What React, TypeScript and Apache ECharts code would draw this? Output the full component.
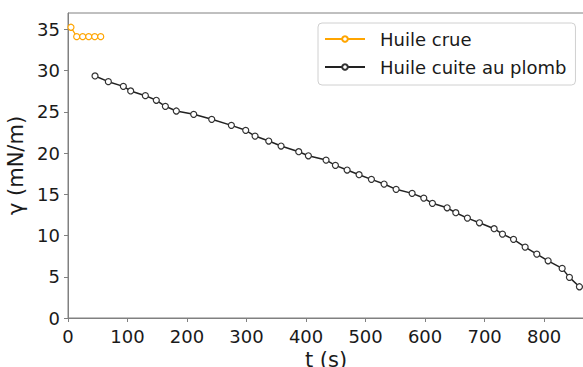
import React, { useEffect, useRef } from "react";
import * as echarts from "echarts";

// Surface tension over time for two oils
const crueTime = [5, 14.6, 24.7, 34.8, 44.9, 55];
const crueGamma = [35.27, 34.13, 34.13, 34.13, 34.13, 34.13];

const cuiteTime = [
  45.4, 67.8, 93, 105.3, 130, 148.4, 163.6, 182, 211.2, 241.5, 274.5, 298.6,
  314.3, 337.3, 358, 387.7, 403.9, 433.6, 449.3, 469, 489.1, 509.8, 531.1,
  551.3, 578.2, 597.8, 612.3, 637, 651.6, 671.1, 691.3, 716, 730, 748.6,
  768.1, 787.7, 806.7, 830.3, 842.5, 859.3,
];
const cuiteGamma = [
  29.36, 28.67, 28.1, 27.54, 26.97, 26.41, 25.68, 25.11, 24.71, 24.1, 23.37,
  22.77, 22.07, 21.47, 20.86, 20.17, 19.68, 19.16, 18.52, 17.95, 17.38, 16.82,
  16.25, 15.61, 15.12, 14.55, 13.91, 13.37, 12.77, 12.12, 11.55, 10.83, 10.18,
  9.54, 8.6, 7.75, 6.94, 6.02, 4.93, 3.79,
];

const xTicks = [0, 100, 200, 300, 400, 500, 600, 700, 800];
const yTicks = [0, 5, 10, 15, 20, 25, 30, 35];

const FONT = "DejaVu Sans";
const AXIS_GRAY = "#808080";

export default function App() {
  const ref = useRef<HTMLDivElement>(null);

  useEffect(() => {
    if (!ref.current) return;
    const chart = echarts.init(ref.current, undefined, { renderer: "svg" });
    const pairs = (xs: number[], ys: number[]) => xs.map((x, i) => [x, ys[i]]);

    chart.setOption({
      animation: false,
      backgroundColor: "#ffffff",
      textStyle: { fontFamily: FONT },
      grid: {
        left: 68,
        right: -1,
        top: 13,
        bottom: 49,
        outerBoundsMode: "none",
        containLabel: false,
        show: true,
        borderColor: AXIS_GRAY,
        borderWidth: 1,
      },
      legend: {
        orient: "vertical",
        left: 318,
        top: 23,
        padding: [6, 9, 8, 6],
        itemWidth: 40,
        itemHeight: 7,
        itemGap: 8,
        borderColor: "#d0d0d0",
        borderWidth: 1,
        borderRadius: 4,
        backgroundColor: "#ffffff",
        textStyle: {
          fontFamily: FONT,
          fontSize: 18,
          color: "#1a1a1a",
          lineHeight: 20,
          padding: [0, 0, 0, 10],
        },
        data: ["Huile crue", "Huile cuite au plomb"],
      },
      xAxis: {
        type: "value",
        min: 0,
        max: 867,
        name: "t (s)",
        nameLocation: "middle",
        nameGap: 29,
        nameTextStyle: { fontFamily: FONT, fontSize: 21, color: "#1a1a1a" },
        splitLine: { show: false },
        axisLine: { show: true, lineStyle: { color: AXIS_GRAY, width: 1 } },
        axisTick: {
          show: true,
          length: 4,
          inside: false,
          lineStyle: { color: AXIS_GRAY },
          customValues: xTicks,
        },
        axisLabel: {
          fontFamily: FONT,
          fontSize: 18,
          color: "#1a1a1a",
          margin: 9,
          customValues: xTicks,
        },
      },
      yAxis: {
        type: "value",
        min: 0,
        max: 37,
        name: "\u03b3 (mN/m)",
        nameLocation: "middle",
        nameGap: 33,
        nameTextStyle: { fontFamily: FONT, fontSize: 21, color: "#1a1a1a" },
        splitLine: { show: false },
        axisLine: { show: true, lineStyle: { color: AXIS_GRAY, width: 1 } },
        axisTick: {
          show: true,
          length: 4,
          inside: false,
          lineStyle: { color: AXIS_GRAY },
          customValues: yTicks,
        },
        axisLabel: {
          fontFamily: FONT,
          fontSize: 18,
          color: "#1a1a1a",
          margin: 8,
          customValues: yTicks,
        },
      },
      series: [
        {
          name: "Huile crue",
          type: "line",
          data: pairs(crueTime, crueGamma),
          symbol: "circle",
          symbolSize: 6,
          showAllSymbol: true,
          lineStyle: { color: "#ffa500", width: 1.3 },
          itemStyle: { color: "#ffffff", borderColor: "#ffa500", borderWidth: 1.2 },
        },
        {
          name: "Huile cuite au plomb",
          type: "line",
          data: pairs(cuiteTime, cuiteGamma),
          symbol: "circle",
          symbolSize: 6,
          showAllSymbol: true,
          lineStyle: { color: "#222222", width: 1.5 },
          itemStyle: { color: "#ffffff", borderColor: "#333333", borderWidth: 1.2 },
        },
      ],
    });

    return () => chart.dispose();
  }, []);

  return (
    <div
      ref={ref}
      style={{ position: "fixed", left: 0, top: 0, width: 583, height: 367 }}
    />
  );
}
